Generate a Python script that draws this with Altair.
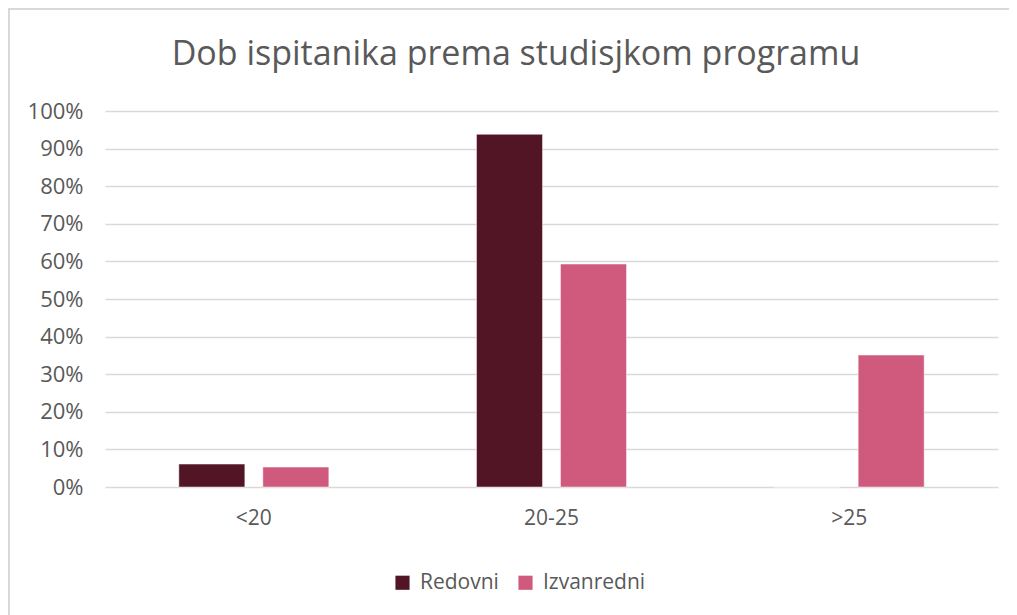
import altair as alt
import pandas as pd

categories = ["<20", "20-25", ">25"]
series = ["Redovni", "Izvanredni"]
redovni = [0.061, 0.938, 0.0]
izvanredni = [0.053, 0.593, 0.351]
colors = ["#521526", "#D05A7E"]

rows = []
for i, c in enumerate(categories):
    rows.append({"cat": c, "serie": series[0], "val": redovni[i]})
    rows.append({"cat": c, "serie": series[1], "val": izvanredni[i]})
df = pd.DataFrame(rows)

FONT = "Open Sans"
GRAY = "#595959"

bars = alt.Chart(df).mark_bar(stroke="white", strokeOpacity=0.6, strokeWidth=0.8).encode(
    x=alt.X("cat:N", sort=categories, title=None,
            scale=alt.Scale(paddingInner=0, paddingOuter=0),
            axis=alt.Axis(labelAngle=0, labelFont=FONT, labelFontSize=21, labelColor=GRAY,
                          domain=False, ticks=False, labelPadding=20)),
    xOffset=alt.XOffset("serie:N", sort=series,
                        scale=alt.Scale(paddingInner=0.214, paddingOuter=0.879)),
    y=alt.Y("val:Q", title=None,
            scale=alt.Scale(domain=[0, 1]),
            axis=alt.Axis(format=".0%", values=[i / 10 for i in range(11)],
                          labelFont=FONT, labelFontSize=22, labelColor=GRAY,
                          domain=False, ticks=False, labelPadding=22,
                          gridColor="#D9D9D9", gridWidth=1.5)),
    color=alt.Color("serie:N", sort=series,
                    scale=alt.Scale(domain=series, range=colors),
                    legend=alt.Legend(title=None, orient="none", direction="horizontal",
                                      legendX=287, legendY=461,
                                      symbolType="square", symbolSize=200,
                                      symbolStrokeWidth=0,
                                      labelFont=FONT, labelFontSize=21, labelColor=GRAY,
                                      columnPadding=16, labelOffset=7)),
)

frame_left = alt.Chart(df).mark_rule(color="#D9D9D9", strokeWidth=2, clip=False).encode(
    x=alt.value(-96), y=alt.value(-103), y2=alt.value(504))
frame_top = alt.Chart(df).mark_rule(color="#D9D9D9", strokeWidth=2, clip=False).encode(
    x=alt.value(-96), x2=alt.value(904), y=alt.value(-102))

chart = alt.layer(bars, frame_left, frame_top).properties(
    width=893, height=376,
    background="white",
    title=alt.TitleParams("Dob ispitanika prema studisjkom programu",
                          font=FONT, fontSize=34, fontWeight="normal", color=GRAY,
                          anchor="middle", frame="bounds", offset=0, dy=65, dx=7),
    padding={"left": 97, "top": 103, "right": 11, "bottom": 128},
    autosize=alt.AutoSizeParams(type="none"),
).configure_view(stroke=None)

chart.save("out.html", embed_options={"renderer": "svg", "actions": False})
